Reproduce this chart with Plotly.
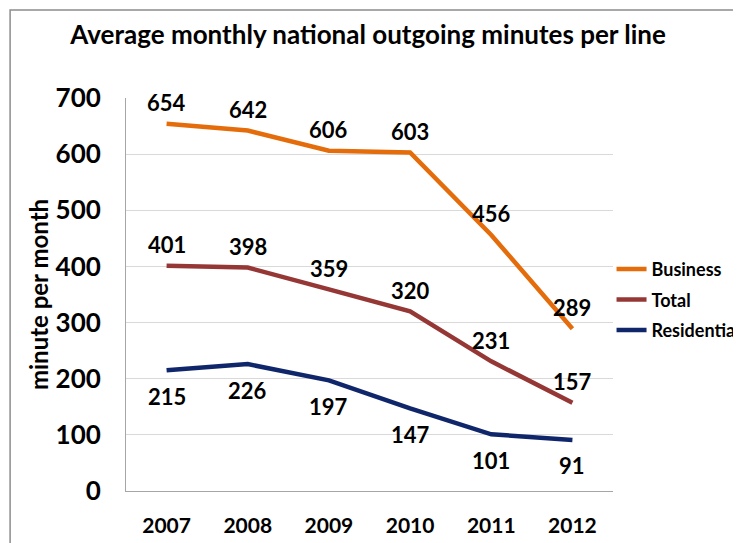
import plotly.graph_objects as go

years = ["2007", "2008", "2009", "2010", "2011", "2012"]
business = [654, 642, 606, 603, 456, 289]
total = [401, 398, 359, 320, 231, 157]
residential = [215, 226, 197, 147, 101, 91]

font_family = "Lato"

fig = go.Figure()

# name, values, colour, label shift in px (positive = above the line)
series = [
    ("Business", business, "#E46C0A", 21),
    ("Total", total, "#953735", 21),
    ("Residential", residential, "#10266B", -26),
]
for name, vals, color, shift in series:
    fig.add_trace(go.Scatter(
        x=years, y=vals, name=name, mode="lines", legendgroup=name,
        line=dict(color=color, width=4.5),
    ))
    # on a category axis annotations are placed by category index
    for i, v in enumerate(vals):
        fig.add_annotation(
            x=i, y=v, text=str(v), showarrow=False, yshift=shift,
            font=dict(family=font_family, size=22, color="black", weight="bold"),
        )

fig.update_layout(
    width=741, height=543,
    margin=dict(l=118, r=136, t=90, b=60, autoexpand=False),
    paper_bgcolor="white", plot_bgcolor="white",
    title=dict(text="Average monthly national outgoing minutes per line",
               x=0.486, xanchor="center", y=0.95, yanchor="middle",
               font=dict(family=font_family, size=26, color="black", weight="bold")),
    legend=dict(x=0.997, xanchor="left", y=0.611, yanchor="top",
                font=dict(family=font_family, size=18, color="black", weight="bold"),
                bgcolor="rgba(0,0,0,0)", itemwidth=30, tracegroupgap=4),
    showlegend=True,
)

fig.update_xaxes(
    type="category", range=[-0.5, 5.5], showgrid=False, showline=True,
    linecolor="#a6a6a6", linewidth=1,
    ticks="", ticklabelstandoff=16, automargin=False,
    tickfont=dict(family=font_family, size=21, color="black", weight="bold"),
)
fig.update_yaxes(
    range=[0, 700], dtick=100, showgrid=True, gridcolor="#d9d9d9", gridwidth=1,
    showline=True, linecolor="#a6a6a6", linewidth=1, zeroline=False,
    ticks="", ticklabelstandoff=19, automargin=False,
    tickfont=dict(family=font_family, size=26, color="black", weight="bold"),
    title=dict(text="minute per month", standoff=0,
               font=dict(family=font_family, size=24, color="black", weight="bold")),
)

# outer chart border (extends beyond the visible picture)
fig.add_shape(type="rect", xref="paper", yref="paper",
              x0=-0.238, x1=1.6, y0=-0.6, y1=1.224,
              line=dict(color="#8c8c8c", width=1.5), layer="below")

fig.write_html("out.html")
